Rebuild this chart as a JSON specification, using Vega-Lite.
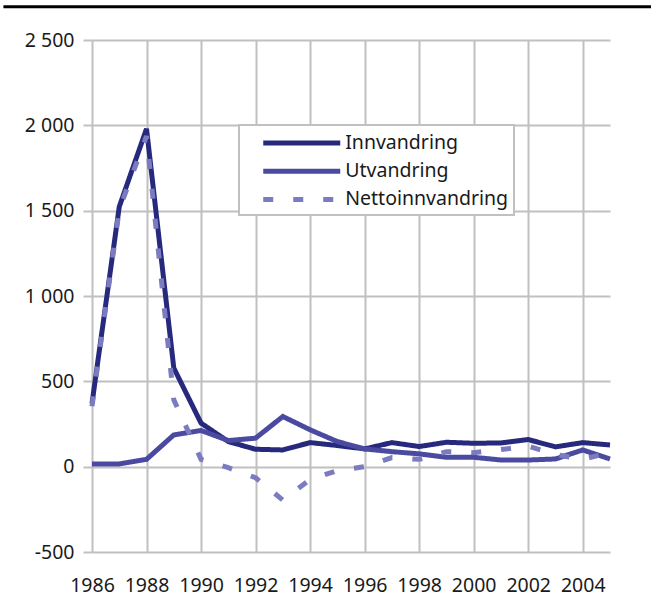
{
  "$schema": "https://vega.github.io/schema/vega-lite/v6.json",
  "width": 518,
  "height": 512,
  "autosize": {"type": "none"},
  "padding": {"left": 92, "top": 40, "right": 41, "bottom": 60},
  "background": "white",
  "config": {
    "view": {"stroke": null},
    "font": "Noto Sans",
    "legend": {"strokeWidth": 2},
    "axis": {
      "domain": false,
      "gridColor": "#c0c0c0",
      "gridWidth": 2,
      "gridOpacity": 1,
      "labelFont": "Noto Sans",
      "labelFontSize": 19.5,
      "labelColor": "#1a1a1a",
      "title": null
    }
  },
  "datasets": {
    "series": [
      {"year": 1986, "serie": "Innvandring", "value": 370},
      {"year": 1987, "serie": "Innvandring", "value": 1523},
      {"year": 1988, "serie": "Innvandring", "value": 1980},
      {"year": 1989, "serie": "Innvandring", "value": 578},
      {"year": 1990, "serie": "Innvandring", "value": 255},
      {"year": 1991, "serie": "Innvandring", "value": 147},
      {"year": 1992, "serie": "Innvandring", "value": 102},
      {"year": 1993, "serie": "Innvandring", "value": 98},
      {"year": 1994, "serie": "Innvandring", "value": 141},
      {"year": 1995, "serie": "Innvandring", "value": 124},
      {"year": 1996, "serie": "Innvandring", "value": 104},
      {"year": 1997, "serie": "Innvandring", "value": 141},
      {"year": 1998, "serie": "Innvandring", "value": 118},
      {"year": 1999, "serie": "Innvandring", "value": 143},
      {"year": 2000, "serie": "Innvandring", "value": 137},
      {"year": 2001, "serie": "Innvandring", "value": 139},
      {"year": 2002, "serie": "Innvandring", "value": 159},
      {"year": 2003, "serie": "Innvandring", "value": 116},
      {"year": 2004, "serie": "Innvandring", "value": 141},
      {"year": 2005, "serie": "Innvandring", "value": 127},
      {"year": 1986, "serie": "Utvandring", "value": 16},
      {"year": 1987, "serie": "Utvandring", "value": 16},
      {"year": 1988, "serie": "Utvandring", "value": 43},
      {"year": 1989, "serie": "Utvandring", "value": 186},
      {"year": 1990, "serie": "Utvandring", "value": 212},
      {"year": 1991, "serie": "Utvandring", "value": 153},
      {"year": 1992, "serie": "Utvandring", "value": 167},
      {"year": 1993, "serie": "Utvandring", "value": 294},
      {"year": 1994, "serie": "Utvandring", "value": 216},
      {"year": 1995, "serie": "Utvandring", "value": 147},
      {"year": 1996, "serie": "Utvandring", "value": 104},
      {"year": 1997, "serie": "Utvandring", "value": 88},
      {"year": 1998, "serie": "Utvandring", "value": 75},
      {"year": 1999, "serie": "Utvandring", "value": 55},
      {"year": 2000, "serie": "Utvandring", "value": 55},
      {"year": 2001, "serie": "Utvandring", "value": 39},
      {"year": 2002, "serie": "Utvandring", "value": 39},
      {"year": 2003, "serie": "Utvandring", "value": 45},
      {"year": 2004, "serie": "Utvandring", "value": 98},
      {"year": 2005, "serie": "Utvandring", "value": 45},
      {"year": 1986, "serie": "Nettoinnvandring", "value": 354},
      {"year": 1987, "serie": "Nettoinnvandring", "value": 1507},
      {"year": 1988, "serie": "Nettoinnvandring", "value": 1937},
      {"year": 1989, "serie": "Nettoinnvandring", "value": 392},
      {"year": 1990, "serie": "Nettoinnvandring", "value": 43},
      {"year": 1991, "serie": "Nettoinnvandring", "value": -6},
      {"year": 1992, "serie": "Nettoinnvandring", "value": -65},
      {"year": 1993, "serie": "Nettoinnvandring", "value": -196},
      {"year": 1994, "serie": "Nettoinnvandring", "value": -75},
      {"year": 1995, "serie": "Nettoinnvandring", "value": -23},
      {"year": 1996, "serie": "Nettoinnvandring", "value": 0},
      {"year": 1997, "serie": "Nettoinnvandring", "value": 53},
      {"year": 1998, "serie": "Nettoinnvandring", "value": 43},
      {"year": 1999, "serie": "Nettoinnvandring", "value": 88},
      {"year": 2000, "serie": "Nettoinnvandring", "value": 82},
      {"year": 2001, "serie": "Nettoinnvandring", "value": 100},
      {"year": 2002, "serie": "Nettoinnvandring", "value": 120},
      {"year": 2003, "serie": "Nettoinnvandring", "value": 71},
      {"year": 2004, "serie": "Nettoinnvandring", "value": 43},
      {"year": 2005, "serie": "Nettoinnvandring", "value": 82}
    ]
  },
  "layer": [
    {
      "data": {"name": "series"},
      "mark": {"type": "line", "strokeWidth": 5, "strokeCap": "butt", "strokeJoin": "miter"},
      "encoding": {
        "x": {
          "field": "year",
          "type": "quantitative",
          "scale": {"domain": [1986, 2005], "nice": false, "zero": false},
          "axis": {
            "values": [1986, 1988, 1990, 1992, 1994, 1996, 1998, 2000, 2002, 2004],
            "format": "d",
            "ticks": false,
            "labelPadding": 24,
            "labelFlush": false,
            "labelOverlap": false
          }
        },
        "y": {
          "field": "value",
          "type": "quantitative",
          "scale": {"domain": [-500, 2500], "nice": false, "zero": false},
          "axis": {
            "values": [-500, 0, 500, 1000, 1500, 2000, 2500],
            "ticks": true,
            "tickSize": 9,
            "tickColor": "#c0c0c0",
            "tickWidth": 2,
            "labelPadding": 9,
            "labelExpr": "(datum.value < 0 ? '-' : '') + replace(format(abs(datum.value), ','), ',', ' ')"
          }
        },
        "color": {
          "field": "serie",
          "type": "nominal",
          "scale": {
            "domain": ["Innvandring", "Utvandring", "Nettoinnvandring"],
            "range": ["#272a7c", "#4a4aa0", "#7b7bbf"]
          },
          "legend": {
            "title": null,
            "orient": "none",
            "legendX": 147,
            "legendY": 85,
            "fillColor": "white",
            "strokeColor": "#c0c0c0",
            "padding": 5.5,
            "rowPadding": 5.2,
            "symbolType": "M-3.85,0H3.85",
            "symbolSize": 400,
            "symbolStrokeWidth": 5,
            "symbolOffset": 44.75,
            "labelFontSize": 19.5,
            "labelFont": "Noto Sans",
            "labelColor": "#1a1a1a",
            "labelOffset": 31,
            "labelLimit": 400
          }
        },
        "strokeDash": {
          "field": "serie",
          "type": "nominal",
          "scale": {
            "domain": ["Innvandring", "Utvandring", "Nettoinnvandring"],
            "range": [[1, 0], [1, 0], [10, 20]]
          },
          "legend": null
        }
      }
    },
    {
      "data": {"values": [{}]},
      "mark": {"type": "rule", "color": "black", "strokeWidth": 3},
      "encoding": {
        "x": {"datum": 1982.75, "type": "quantitative"},
        "x2": {"datum": 2006.6},
        "y": {"datum": 2695, "type": "quantitative"}
      }
    }
  ]
}
